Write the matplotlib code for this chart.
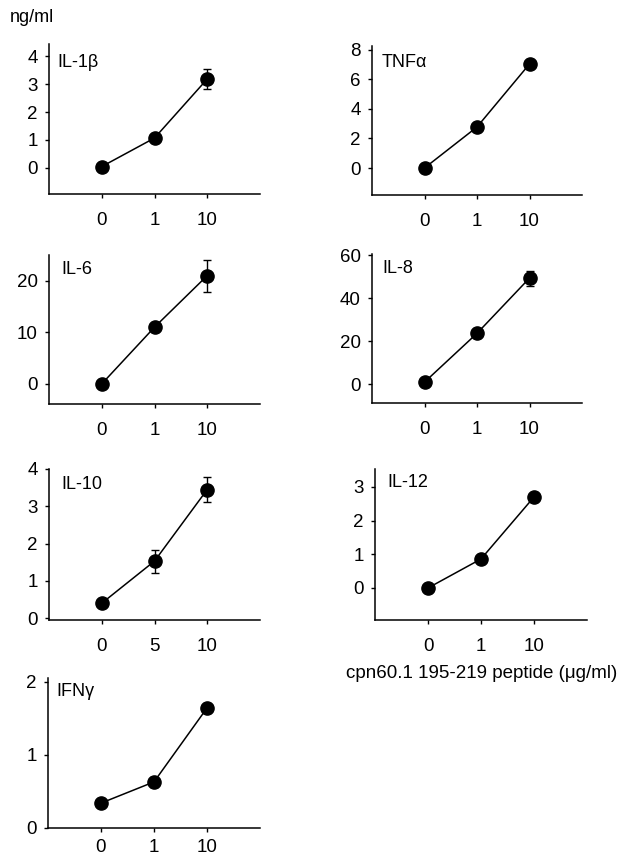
import matplotlib.pyplot as plt

plt.rcParams['font.family'] = ['Liberation Sans', 'DejaVu Sans']

cytokines = ['IL-1β', 'TNFα', 'IL-6', 'IL-8', 'IL-10', 'IL-12', 'IFNγ']
doses = [['0', '1', '10'], ['0', '1', '10'], ['0', '1', '10'], ['0', '1', '10'],
         ['0', '5', '10'], ['0', '1', '10'], ['0', '1', '10']]
means = [[0.05, 1.07, 3.18],
         [0.0, 2.78, 7.05],
         [0.0, 11.0, 21.0],
         [0.9, 23.6, 49.3],
         [0.40, 1.53, 3.45],
         [0.0, 0.86, 2.70],
         [0.34, 0.63, 1.64]]
errs = [[0.0, 0.0, 0.36],
        [0.0, 0.1, 0.3],
        [0.0, 0.0, 3.1],
        [0.0, 0.0, 3.5],
        [0.0, 0.31, 0.33],
        [0.0, 0.0, 0.12],
        [0.0, 0.07, 0.0]]
yticks = [[0, 1, 2, 3, 4], [0, 2, 4, 6, 8], [0, 10, 20], [0, 20, 40, 60],
          [0, 1, 2, 3, 4], [0, 1, 2, 3], [0, 1, 2]]
ylims = [(-0.93, 4.43), (-1.83, 8.27), (-3.9, 25.0), (-8.8, 60.5),
         (-0.05, 4.0), (-0.95, 3.53), (0, 2.05)]

W, H = 636, 860
# panel boxes in pixels: left, right, top, bottom
boxes = [(49, 260, 44, 194), (372, 582, 46, 195),
         (49, 260, 255, 404), (372, 582, 254, 403),
         (49, 260, 469, 620), (375, 587, 469, 620),
         (48, 260, 678, 828)]
label_pos = [(0.04, 0.88), (0.045, 0.89), (0.057, 0.90), (0.05, 0.906),
             (0.06, 0.90), (0.06, 0.91), (0.04, 0.91)]
xpads = [10, 10, 10, 10, 10, 10, 5]

fig = plt.figure(figsize=(W / 100, H / 100), dpi=100)

for i in range(len(cytokines)):
    l, r, t, b = boxes[i]
    ax = fig.add_axes([l / W, 1 - b / H, (r - l) / W, (b - t) / H])
    x = range(len(doses[i]))
    ax.errorbar(x, means[i], yerr=errs[i], fmt='-o', color='black',
                markersize=9.5, linewidth=1.1, elinewidth=1.0, capsize=3, capthick=1.0)
    ax.set_xlim(-1, 3)
    ax.set_ylim(*ylims[i])
    ax.set_xticks(list(x))
    ax.set_xticklabels(doses[i])
    ax.set_yticks(yticks[i])
    ax.spines['top'].set_visible(False)
    ax.spines['right'].set_visible(False)
    ax.spines['left'].set_linewidth(1.1)
    ax.spines['bottom'].set_linewidth(1.1)
    ax.tick_params(direction='out', length=3, width=1, labelsize=13.5, pad=5)
    ax.tick_params(axis='x', pad=xpads[i])
    ax.text(label_pos[i][0], label_pos[i][1], cytokines[i], transform=ax.transAxes,
            fontsize=13, va='center', ha='left')

fig.text(10 / W, 1 - 18 / H, 'ng/ml', fontsize=13, va='center', ha='left')
fig.text(482 / W, 1 - 674 / H, 'cpn60.1 195-219 peptide (μg/ml)', fontsize=13.5,
         va='center', ha='center')

fig.savefig('out.png', dpi=100)
